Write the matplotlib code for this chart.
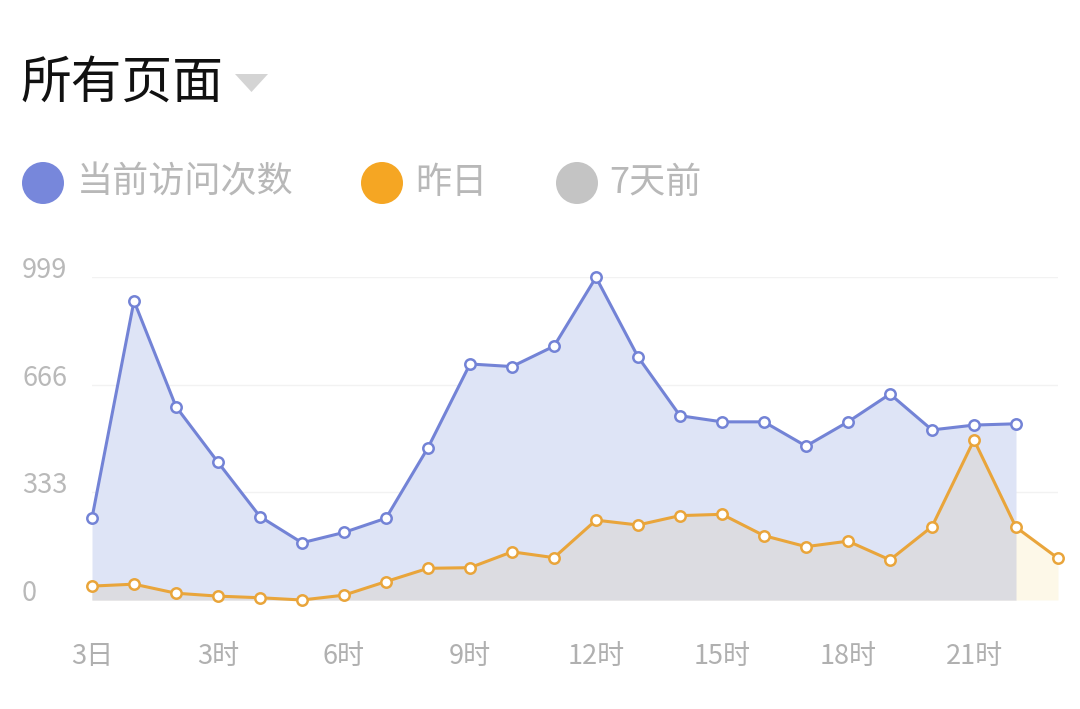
import matplotlib
matplotlib.use("Agg")
import matplotlib.pyplot as plt
import matplotlib.transforms as mtransforms
from matplotlib.patches import Polygon, Circle
import numpy as np

plt.rcParams['font.family'] = ['Noto Sans CJK SC', 'DejaVu Sans']

# ---- data ----
title = "所有页面"
legend_labels = ["当前访问次数", "昨日", "7天前"]
legend_colors = ["#7787db", "#f5a623", "#c4c4c4"]

current_visits = [254, 925, 598, 426, 258, 177, 209, 253, 471, 730, 722, 785,
                  998, 752, 570, 551, 551, 476, 551, 637, 526, 541, 545]
yesterday = [43, 49, 21, 12, 7, 0, 15, 57, 98, 100, 149, 131,
             247, 232, 261, 265, 199, 165, 182, 124, 227, 495, 225, 129]

y_ticks = [0, 333, 666, 999]
x_tick_pos = [0, 3, 6, 9, 12, 15, 18, 21]
x_tick_labels = ["3日", "3时", "6时", "9时", "12时", "15时", "18时", "21时"]

# ---- figure ----
W, H = 1080, 709
fig = plt.figure(figsize=(W / 100, H / 100), dpi=100)
fig.patch.set_facecolor("white")

ax = fig.add_axes([92 / W, 1 - 600 / H, (1058 - 92) / W, (600 - 277) / H])
ax.set_facecolor("none")

xb = np.arange(len(current_visits))
xo = np.arange(len(yesterday))
yb = np.array(current_visits)
yo = np.array(yesterday)

blue_line = "#7383d6"
orange_line = "#e9a53b"

# fills
ax.fill_between(xb, 0, yb, color="#dee4f6", lw=0, zorder=1)
ax.fill_between(xo, 0, yo, color="#fdf8e8", lw=0, zorder=2)
overlap = xo <= xb[-1]
ax.fill_between(xo, 0, yo, where=overlap, color="#dcdce1", lw=0, zorder=2)

# grid
for t in y_ticks[1:]:
    ax.axhline(t, color="#f2f2f2", lw=1, zorder=0.5)

# lines
ax.plot(xb, yb, color=blue_line, lw=2.2, marker="o", ms=7.5, mfc="white",
        mec=blue_line, mew=1.8, zorder=5, clip_on=False)
ax.plot(xo, yo, color=orange_line, lw=2.2, marker="o", ms=7.5, mfc="white",
        mec=orange_line, mew=1.8, zorder=6, clip_on=False)

ax.set_xlim(0, 23)
ax.set_ylim(0, 999)
for s in ax.spines.values():
    s.set_visible(False)

ax.set_yticks(y_ticks)
ax.set_yticklabels([str(t) for t in y_ticks])
ax.set_xticks(x_tick_pos)
ax.set_xticklabels(x_tick_labels)
ax.tick_params(axis="both", length=0, labelsize=19.5)
ax.tick_params(axis="y", pad=50.4, labelcolor="#b9b9b9")
ax.tick_params(axis="x", pad=31, labelcolor="#b0b0b0")
offset = mtransforms.ScaledTranslation(0, 0.095, fig.dpi_scale_trans)
for lab in ax.get_yticklabels():
    lab.set_horizontalalignment("left")
    lab.set_transform(lab.get_transform() + offset)

# title
fig.text(20 / W, 1 - 84 / H, title, fontsize=36.5, color="#111111",
         ha="left", va="center")
tri = Polygon([[235 / W, 1 - 74 / H], [268 / W, 1 - 74 / H], [251.5 / W, 1 - 92 / H]],
              closed=True, transform=fig.transFigure, facecolor="#d4d4d4",
              edgecolor="none")
fig.add_artist(tri)

# legend
circle_x = [43, 382, 577]
text_x = [77, 415, 609]
ly = 183
for cx, tx, lab, col in zip(circle_x, text_x, legend_labels, legend_colors):
    c = Circle((cx, H - ly), 21, transform=None, facecolor=col, edgecolor="none")
    fig.add_artist(c)
    fig.text(tx / W, 1 - ly / H, lab, fontsize=26, color="#b8b8b8",
             ha="left", va="center")

fig.savefig("out.png", dpi=100, facecolor="white")
